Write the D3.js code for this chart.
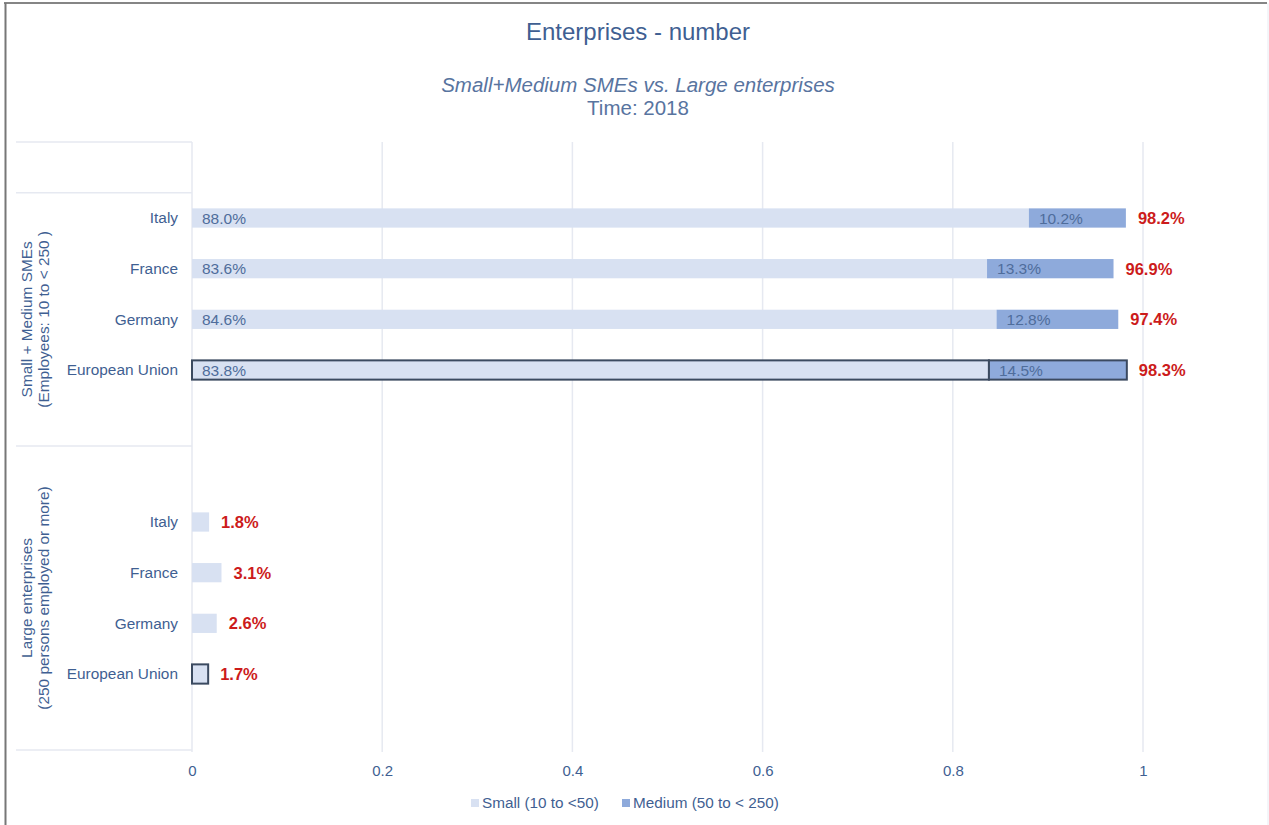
<html>
<meta charset="UTF-8">
<head>
<style>
  body { margin: 0; background: #fff; font-family: "Liberation Sans", Arial, sans-serif; }
</style>
</head>
<script src="https://d3js.org/d3.v7.min.js"></script>
<body>
<div id="chart"></div>
<script>
// chart data
var countries = ["Italy", "France", "Germany", "European Union"];
var groupNames = ["sme", "large"];
var groupLabels = [
  ["Small + Medium SMEs", "(Employees: 10 to < 250 )"],
  ["Large enterprises", "(250 persons employed or more)"]
];
var smeSmall = [0.880, 0.836, 0.846, 0.838];
var smeMedium = [0.102, 0.133, 0.128, 0.145];
var largeSmall = [0.018, 0.031, 0.026, 0.017];
var xTicks = [0, 0.2, 0.4, 0.6, 0.8, 1];
var xTickLabels = ["0", "0.2", "0.4", "0.6", "0.8", "1"];
var seriesNames = ["Small (10 to <50)", "Medium (50 to < 250)"];

var width = 1269, height = 825;
var textBlue = "#3f5f92";
var gridColor = "#e6e9f1";
var colSmall = "#d8e1f2";
var colMedium = "#8eaadb";
var red = "#cc1b1b";
var font = "'Liberation Sans', Arial, sans-serif";

// rows: padding slots around the two groups
var rows = [];
rows.push({ key: "pad0" });
countries.forEach((c, i) => rows.push({ key: "sme|" + c, group: "sme", country: c, small: smeSmall[i], medium: smeMedium[i] }));
rows.push({ key: "pad1" });
rows.push({ key: "pad2" });
countries.forEach((c, i) => rows.push({ key: "large|" + c, group: "large", country: c, small: largeSmall[i], medium: 0 }));
rows.push({ key: "pad3" });

var svg = d3.select("#chart").append("svg")
  .attr("width", width)
  .attr("height", height)
  .attr("font-family", font);

// frame
svg.append("line").attr("x1", 4).attr("x2", 1267).attr("y1", 3).attr("y2", 3)
  .attr("stroke", "#858585").attr("stroke-width", 2);
svg.append("line").attr("x1", 5.5).attr("x2", 5.5).attr("y1", 3).attr("y2", 825)
  .attr("stroke", "#777").attr("stroke-width", 2);
svg.append("line").attr("x1", 1268).attr("x2", 1268).attr("y1", 3).attr("y2", 825)
  .attr("stroke", "#e8ebf2").attr("stroke-width", 1);

// titles
svg.append("text").attr("x", 638).attr("y", 39.5).attr("text-anchor", "middle")
  .attr("font-size", 24).attr("fill", textBlue).text("Enterprises - number");
svg.append("text").attr("x", 638).attr("y", 92).attr("text-anchor", "middle")
  .attr("font-size", 20.5).attr("font-style", "italic").attr("fill", "#58749f")
  .text("Small+Medium SMEs vs. Large enterprises");
svg.append("text").attr("x", 638).attr("y", 115).attr("text-anchor", "middle")
  .attr("font-size", 20.5).attr("fill", "#58749f").text("Time: 2018");

var x = d3.scaleLinear().domain([0, 1]).range([192, 1143]);
var y = d3.scaleBand().domain(rows.map(d => d.key)).range([142, 750]);
var barH = y.bandwidth() * 0.38;

// gridlines
svg.append("g").selectAll("line").data(xTicks).enter().append("line")
  .attr("x1", d => x(d)).attr("x2", d => x(d))
  .attr("y1", 142).attr("y2", 752)
  .attr("stroke", gridColor).attr("stroke-width", 1.5);

// left axis frame lines
var sepY = [142, y("sme|Italy"), y("pad2"), 750];
svg.append("g").selectAll("line").data(sepY).enter().append("line")
  .attr("x1", 16).attr("x2", 192).attr("y1", d => d).attr("y2", d => d)
  .attr("stroke", gridColor).attr("stroke-width", 1.5);

// x axis labels
var xAxis = d3.axisBottom(x).tickValues(xTicks)
  .tickFormat((d, i) => xTickLabels[i]).tickSize(0).tickPadding(0);
var xg = svg.append("g").attr("transform", "translate(0,765)").call(xAxis);
xg.select(".domain").remove();
xg.selectAll("text").attr("font-size", 15).attr("fill", textBlue)
  .attr("font-family", font);

// category labels
var dataRows = rows.filter(d => d.group);
svg.append("g").selectAll("text").data(dataRows).enter().append("text")
  .attr("x", 178).attr("y", d => y(d.key) + y.bandwidth() / 2)
  .attr("dy", "0.35em").attr("text-anchor", "end")
  .attr("font-size", 15.4).attr("fill", textBlue).text(d => d.country);

// group labels (rotated)
var groupSpans = [[y("sme|Italy"), y("pad2")], [y("pad2"), 750]];
groupNames.forEach((g, i) => {
  var cy = (groupSpans[i][0] + groupSpans[i][1]) / 2;
  var t = svg.append("text")
    .attr("transform", "translate(32," + cy + ") rotate(-90)")
    .attr("text-anchor", "middle").attr("font-size", 15.4).attr("fill", textBlue);
  groupLabels[i].forEach((line, j) => {
    t.append("tspan").attr("x", 0).attr("dy", j === 0 ? 0 : 16.5).text(line);
  });
});

// bars
var barG = svg.append("g").selectAll("g").data(dataRows).enter().append("g")
  .attr("transform", d => "translate(0," + (y(d.key) + (y.bandwidth() - barH) / 2) + ")");

barG.append("rect")
  .attr("x", x(0)).attr("y", 0)
  .attr("width", d => x(d.small) - x(0)).attr("height", barH)
  .attr("fill", colSmall)
  .attr("stroke", d => d.country === "European Union" ? "#3b4a60" : "none")
  .attr("stroke-width", 2);

barG.filter(d => d.medium > 0).append("rect")
  .attr("x", d => x(d.small)).attr("y", 0)
  .attr("width", d => x(d.small + d.medium) - x(d.small)).attr("height", barH)
  .attr("fill", colMedium)
  .attr("stroke", d => d.country === "European Union" ? "#3b4a60" : "none")
  .attr("stroke-width", 2);

// inner labels
barG.filter(d => x(d.small) - x(0) > 40).append("text")
  .attr("x", x(0) + 10).attr("y", barH / 2).attr("dy", "0.36em")
  .attr("font-size", 15.5).attr("fill", "#4f6d9b")
  .text(d => (d.small * 100).toFixed(1) + "%");
barG.filter(d => x(d.small + d.medium) - x(d.small) > 40).append("text")
  .attr("x", d => x(d.small) + 10).attr("y", barH / 2).attr("dy", "0.36em")
  .attr("font-size", 15.5).attr("fill", "#4f6d9b")
  .text(d => (d.medium * 100).toFixed(1) + "%");

// totals
barG.append("text")
  .attr("x", d => x(d.small + d.medium) + 12).attr("y", barH / 2).attr("dy", "0.36em")
  .attr("font-size", 16.5).attr("font-weight", "bold").attr("fill", red)
  .text(d => ((d.small + d.medium) * 100).toFixed(1) + "%");

// legend
var legend = svg.append("g").attr("transform", "translate(471,803)");
var legendX = [0, 151];
var legendCol = [colSmall, colMedium];
seriesNames.forEach((s, i) => {
  legend.append("rect").attr("x", legendX[i]).attr("y", -4).attr("width", 8).attr("height", 8)
    .attr("fill", legendCol[i]);
  legend.append("text").attr("x", legendX[i] + 11).attr("y", 0).attr("dy", "0.35em")
    .attr("font-size", 15.3).attr("fill", textBlue).text(s);
});
</script>
</body>
</html>
